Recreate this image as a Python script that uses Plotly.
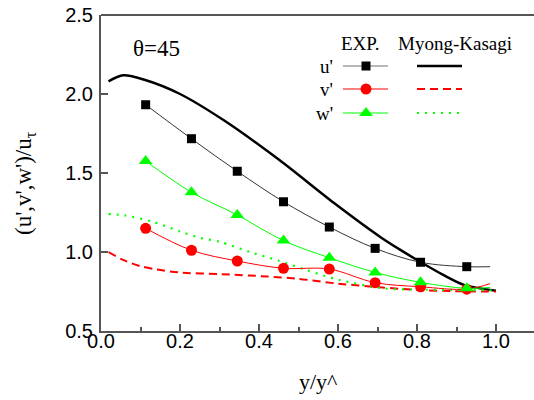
import plotly.graph_objects as go

# ---- experimental data (theta = 45) ----
exp_x = [0.113, 0.229, 0.345, 0.462, 0.578, 0.694, 0.809, 0.926]
exp_u = [1.932, 1.717, 1.511, 1.318, 1.158, 1.023, 0.935, 0.907]
exp_v = [1.150, 1.011, 0.943, 0.897, 0.892, 0.806, 0.780, 0.765]
exp_w = [1.576, 1.378, 1.234, 1.072, 0.964, 0.871, 0.808, 0.770]

# end points of the fitted experimental curves
fit_end_x = 0.985
fit_end_u = 0.907
fit_end_v = 0.800
fit_end_w = 0.775

# ---- Myong-Kasagi model profiles ----
mk_u_x = [0.019, 0.056, 0.11, 0.2, 0.31, 0.45, 0.59, 0.706, 0.76, 0.81, 0.87, 0.92, 1.0]
mk_u_y = [2.08, 2.118, 2.09, 2.0, 1.835, 1.585, 1.31, 1.097, 1.01, 0.935, 0.85, 0.79, 0.755]

mk_v_x = [0.019, 0.056, 0.1, 0.14, 0.2, 0.3, 0.42, 0.5, 0.6, 0.706, 0.8, 0.9, 1.0]
mk_v_y = [1.0, 0.95, 0.91, 0.89, 0.87, 0.86, 0.845, 0.83, 0.80, 0.777, 0.76, 0.752, 0.75]

mk_w_x = [0.019, 0.06, 0.13, 0.2, 0.25, 0.3, 0.377, 0.45, 0.52, 0.6, 0.715, 0.8, 0.9, 1.0]
mk_w_y = [1.24, 1.232, 1.192, 1.13, 1.09, 1.065, 1.0, 0.945, 0.886, 0.825, 0.77, 0.762, 0.76, 0.757]

# ---- axes ----
x_ticks = [0.0, 0.2, 0.4, 0.6, 0.8, 1.0]
y_ticks = [0.5, 1.0, 1.5, 2.0, 2.5]

BLACK = "#000000"
RED = "#FF0000"
GREEN = "#00FF00"
AXIS = "#555555"
SERIF = "Liberation Serif"
SANS = "Liberation Sans"

W, H = 534, 400
ML, MR, MT, MB = 101, 0, 15, 69
PW, PH = W - ML - MR, H - MT - MB


def paper_x(px):
    return (px - ML) / PW


def paper_y(py):
    return (H - MB - py) / PH


fig = go.Figure()

# model curves
fig.add_trace(go.Scatter(x=mk_u_x, y=mk_u_y, mode="lines",
                         line=dict(color=BLACK, width=2.5, shape="spline", smoothing=0.8)))
fig.add_trace(go.Scatter(x=mk_v_x, y=mk_v_y, mode="lines",
                         line=dict(color=RED, width=2, dash="8px,5px", shape="spline", smoothing=0.8)))
fig.add_trace(go.Scatter(x=mk_w_x, y=mk_w_y, mode="lines",
                         line=dict(color=GREEN, width=2.2, dash="2px,6px", shape="spline", smoothing=0.8)))

# experimental fitted curves
fig.add_trace(go.Scatter(x=exp_x + [fit_end_x], y=exp_u + [fit_end_u], mode="lines",
                         line=dict(color="#333333", width=1, shape="spline")))
fig.add_trace(go.Scatter(x=exp_x + [fit_end_x], y=exp_v + [fit_end_v], mode="lines",
                         line=dict(color=RED, width=1, shape="spline")))
fig.add_trace(go.Scatter(x=exp_x + [fit_end_x], y=exp_w + [fit_end_w], mode="lines",
                         line=dict(color=GREEN, width=1, shape="spline")))

# experimental points
fig.add_trace(go.Scatter(x=exp_x, y=exp_u, mode="markers",
                         marker=dict(symbol="square", size=9, color=BLACK)))
fig.add_trace(go.Scatter(x=exp_x, y=exp_v, mode="markers",
                         marker=dict(symbol="circle", size=11, color=RED)))
fig.add_trace(go.Scatter(x=exp_x, y=exp_w, mode="markers",
                         marker=dict(symbol="triangle-up", size=12, color=GREEN)))

# ---- legend drawn on a pixel-scaled overlay axis ----
PX_X = [ML, W - MR]
PX_Y = [H - MB, MT]
rows = [66, 89, 113]
row_labels = ["u'", "v'", "w'"]
exp_styles = [("square", 9, BLACK, "#707070"), ("circle", 11, RED, RED), ("triangle-up", 12, GREEN, GREEN)]
mk_styles = [(BLACK, 2.5, "solid"), (RED, 2, "8px,5px"), (GREEN, 2.2, "2px,6px")]
exp_line_x = [343, 388]
exp_mark_x = 366
mk_line_x = [417, 462]

for yy, (sym, sz, mc, lc), (mcol, mw, mdash) in zip(rows, exp_styles, mk_styles):
    fig.add_trace(go.Scatter(x=exp_line_x, y=[yy, yy], mode="lines", xaxis="x2", yaxis="y2",
                             line=dict(color=lc, width=1)))
    fig.add_trace(go.Scatter(x=[exp_mark_x], y=[yy], mode="markers", xaxis="x2", yaxis="y2",
                             marker=dict(symbol=sym, size=sz, color=mc)))
    fig.add_trace(go.Scatter(x=mk_line_x, y=[yy, yy], mode="lines", xaxis="x2", yaxis="y2",
                             line=dict(color=mcol, width=mw, dash=mdash)))

annotations = [
    dict(x=360, y=43, text="EXP.", xanchor="center"),
    dict(x=455, y=43, text="Myong-Kasagi", xanchor="center"),
]
for yy, lab in zip(rows, row_labels):
    annotations.append(dict(x=335, y=yy, text=lab, xanchor="right"))
for a in annotations:
    a.update(xref="paper", yref="paper", x=paper_x(a["x"]), y=paper_y(a["y"]),
             yanchor="middle", showarrow=False,
             font=dict(family=SERIF, size=19, color=BLACK))

annotations.append(dict(x=paper_x(156), y=paper_y(48), xref="paper", yref="paper",
                        text="θ=45", showarrow=False, xanchor="center", yanchor="middle",
                        font=dict(family=SERIF, size=23, color=BLACK)))

# axis titles
annotations.append(dict(x=paper_x(318), y=paper_y(381), xref="paper", yref="paper",
                        text="y/y^", showarrow=False, xanchor="center", yanchor="middle",
                        font=dict(family=SERIF, size=22, color=BLACK)))
annotations.append(dict(x=paper_x(25), y=paper_y(183), xref="paper", yref="paper",
                        text="(u',v',w')/u<sub>τ</sub>", showarrow=False, textangle=-90,
                        xanchor="center", yanchor="middle",
                        font=dict(family=SERIF, size=23, color=BLACK)))

fig.update_layout(
    width=W, height=H,
    margin=dict(l=ML, r=MR, t=MT, b=MB),
    paper_bgcolor="white", plot_bgcolor="white",
    showlegend=False,
    annotations=annotations,
    xaxis=dict(range=[0, PW / 395.0], tickvals=x_ticks, tickformat=".1f",
               showline=True, linecolor=AXIS, linewidth=2, ticks="inside", ticklen=7,
               tickwidth=1.5, tickcolor=AXIS, showgrid=False, zeroline=False,
               ticklabelstandoff=-9,
               tickfont=dict(family=SANS, size=20, color=BLACK),
               minor=dict(dtick=0.1, tick0=0, ticks="inside", ticklen=4, tickcolor=AXIS, tickwidth=1.5)),
    yaxis=dict(range=[0.5, 2.5], tickvals=y_ticks, tickformat=".1f",
               showline=True, linecolor=AXIS, linewidth=2, ticks="inside", ticklen=7,
               tickwidth=1.5, tickcolor=AXIS, showgrid=False, zeroline=False,
               ticklabelstandoff=2,
               tickfont=dict(family=SANS, size=20, color=BLACK)),
    xaxis2=dict(range=PX_X, overlaying="x", visible=False, anchor="y2", fixedrange=True),
    yaxis2=dict(range=PX_Y, overlaying="y", visible=False, anchor="x2", fixedrange=True),
    shapes=[dict(type="line", xref="paper", yref="paper", x0=0, x1=1, y0=1, y1=1,
                 line=dict(color=AXIS, width=2))],
)

fig.write_html("out.html")
